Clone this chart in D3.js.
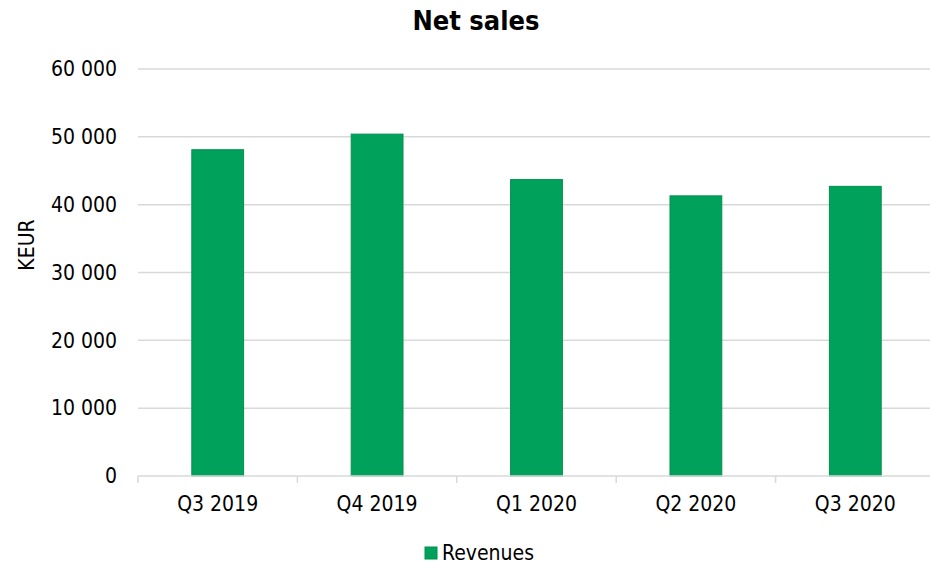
<!DOCTYPE html>
<html>
<head>
<meta charset="utf-8">
<script src="https://cdn.jsdelivr.net/npm/d3@7"></script>
<style>
  body { margin: 0; background: #fff; }
  text { font-family: "DejaVu Sans Condensed", "DejaVu Sans", sans-serif; fill: #000; }
</style>
</head>
<body>
<div id="chart"></div>
<script>
// quarterly net sales, KEUR
const quarters = ["Q3 2019", "Q4 2019", "Q1 2020", "Q2 2020", "Q3 2020"];
const revenues = [48100, 50400, 43700, 41300, 42700];
const yTicks = [0, 10000, 20000, 30000, 40000, 50000, 60000];

const svgWidth = 930;
const svgHeight = 566;

const margin = { top: 69, right: -5, bottom: 90, left: 138 };
const width = svgWidth - margin.left - margin.right;
const height = svgHeight - margin.top - margin.bottom;

const svg = d3.select("#chart")
    .append("svg")
    .attr("width", svgWidth)
    .attr("height", svgHeight);

const chartGroup = svg.append("g")
    .attr("transform", `translate(${margin.left}, ${margin.top})`);

const xScale = d3.scaleBand()
    .domain(quarters)
    .range([0, width])
    .paddingInner(0.675)
    .paddingOuter(0.3375);

const yScale = d3.scaleLinear()
    .domain([0, 60000])
    .range([height, 0]);

const fmt = v => d3.format(",")(v).replace(/,/g, " ");

// gridlines
chartGroup.append("g")
    .selectAll("line")
    .data(yTicks.filter(d => d > 0))
    .enter()
    .append("line")
    .attr("x1", 0)
    .attr("x2", width)
    .attr("y1", d => yScale(d))
    .attr("y2", d => yScale(d))
    .attr("stroke", "#d9d9d9")
    .attr("stroke-width", 1.5);

// y axis labels
const yAxis = chartGroup.append("g")
    .call(d3.axisLeft(yScale).tickValues(yTicks).tickFormat(fmt).tickSize(0).tickPadding(21));
yAxis.select(".domain").remove();
yAxis.selectAll("text")
    .style("font-size", "21px")
    .attr("fill", "#000");

// bars
chartGroup.selectAll("rect")
    .data(revenues)
    .enter()
    .append("rect")
    .attr("x", (d, i) => xScale(quarters[i]))
    .attr("y", d => yScale(d))
    .attr("width", xScale.bandwidth())
    .attr("height", d => height - yScale(d))
    .attr("fill", "#00a25b")
    .attr("stroke", "#00914f")
    .attr("stroke-width", 1);

// x axis
const band = d3.scalePoint()
    .domain(d3.range(quarters.length + 1))
    .range([0, width]);
const xAxis = chartGroup.append("g")
    .attr("transform", `translate(0, ${height})`);
xAxis.append("line")
    .attr("x1", 0).attr("x2", width)
    .attr("stroke", "#d9d9d9").attr("stroke-width", 1.5);
xAxis.selectAll(".tick")
    .data(band.domain())
    .enter()
    .append("line")
    .attr("x1", d => band(d)).attr("x2", d => band(d))
    .attr("y1", 0).attr("y2", 7)
    .attr("stroke", "#d9d9d9").attr("stroke-width", 1.5);
xAxis.selectAll("text")
    .data(quarters)
    .enter()
    .append("text")
    .attr("x", d => xScale(d) + xScale.bandwidth() / 2)
    .attr("y", 35)
    .attr("text-anchor", "middle")
    .style("font-size", "21px")
    .text(d => d);

// title
svg.append("text")
    .attr("x", 476)
    .attr("y", 30)
    .attr("text-anchor", "middle")
    .style("font-size", "27px")
    .style("font-weight", "bold")
    .text("Net sales");

// y axis title
svg.append("text")
    .attr("transform", "translate(34, 245) rotate(-90)")
    .attr("text-anchor", "middle")
    .style("font-size", "21px")
    .text("KEUR");

// legend
const legend = svg.append("g")
    .attr("transform", "translate(425, 547)");
legend.append("rect")
    .attr("width", 12)
    .attr("height", 12)
    .attr("fill", "#00a25b")
    .attr("stroke", "#00914f");
legend.append("text")
    .attr("x", 17)
    .attr("y", 13)
    .style("font-size", "21px")
    .text("Revenues");
</script>
</body>
</html>
